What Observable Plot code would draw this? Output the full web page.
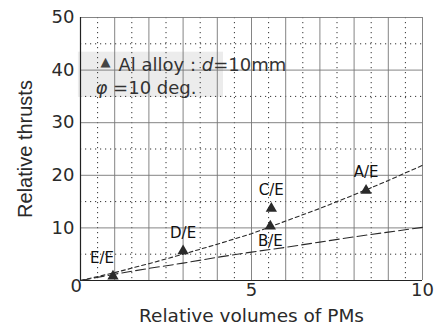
<!DOCTYPE html>
<html><head><meta charset="utf-8">
<script src="https://cdn.jsdelivr.net/npm/d3@7"></script>
<script src="https://cdn.jsdelivr.net/npm/@observablehq/plot@0.6"></script>
<style>body{margin:0;background:#fff;}</style>
</head><body><div id="chart"></div>
<script>
const labels = ["E/E", "D/E", "C/E", "B/E", "A/E"];
const volumes = [0.95, 3.0, 5.58, 5.55, 8.35];
const thrusts = [0.8, 5.6, 13.7, 10.3, 17.1];
const fitX = [0, 1, 2, 3, 4, 5, 6, 7, 8, 9, 10];
const upperFit = [0, 1.5, 3.2, 5.0, 6.9, 8.9, 11.3, 13.7, 16.3, 19.0, 21.9];
const lowerFit = [0, 1.2, 2.3, 3.3, 4.4, 5.4, 6.3, 7.3, 8.3, 9.2, 10.1];
const xTicks = [5, 10];
const yTicks = [10, 20, 30, 40, 50];
const xMajor = [1, 2, 3, 4, 5, 6, 7, 8, 9, 10];
const xMinor = [0.5, 1.5, 2.5, 3.5, 4.5, 5.5, 6.5, 7.5, 8.5, 9.5];
const yMajor = [10, 20, 30, 40, 50];
const yMinor = [5, 15, 25, 35, 45];
const legendLine1 = "Al alloy : d=10mm";
const legendLine2 = "φ =10 deg.";

const pts = labels.map((l, i) => ({label: l, x: volumes[i], y: thrusts[i]}));
const upper = fitX.map((x, i) => ({x, y: upperFit[i]}));
const lower = fitX.map((x, i) => ({x, y: lowerFit[i]}));

const ink = "#2a2a2a";
const wide = "DejaVu Sans, Verdana, sans-serif";
const chart = Plot.plot({
  width: 439, height: 328,
  marginLeft: 80, marginRight: 17, marginTop: 17, marginBottom: 48,
  x: {domain: [0, 10]},
  y: {domain: [0, 50]},
  style: {fontFamily: wide, background: "#fff"},
  marks: [
    Plot.rect([0], {x1: -0.06, x2: 4.18, y1: 34.8, y2: 43.4, fill: "#d9d9d9", fillOpacity: 0.5}),
    Plot.ruleX(xMinor, {stroke: "#333", strokeDasharray: "1.2,3.8", strokeWidth: 1}),
    Plot.ruleY(yMinor, {stroke: "#333", strokeDasharray: "1.2,3.8", strokeWidth: 1}),
    Plot.ruleX(xMajor, {stroke: "#777", strokeWidth: 0.9}),
    Plot.ruleY(yMajor, {stroke: "#777", strokeWidth: 0.9}),
    Plot.ruleX([0], {stroke: "#222", strokeWidth: 1.2}),
    Plot.ruleY([0], {stroke: "#222", strokeWidth: 1.2}),
    Plot.line(upper, {x: "x", y: "y", stroke: ink, strokeWidth: 1.1, strokeDasharray: "4,3"}),
    Plot.line(lower, {x: "x", y: "y", stroke: ink, strokeWidth: 1.1, strokeDasharray: "10,4"}),
    Plot.dot(pts, {x: "x", y: "y", symbol: "triangle", r: 4.2, fill: ink, stroke: "none"}),
    Plot.text(pts, {filter: d => d.label !== "B/E" && d.label !== "E/E", x: "x", y: "y", text: "label", fontSize: 15, fill: "#111", dy: -18}),
    Plot.text(pts, {filter: d => d.label === "E/E", x: "x", y: "y", text: "label", fontSize: 15, fill: "#111", dy: -18, dx: -11}),
    Plot.text(pts, {filter: d => d.label === "B/E", x: "x", y: "y", text: "label", fontSize: 15, fill: "#111", dy: 15}),
    Plot.axisY(yTicks, {tickSize: 0, tickPadding: 6, fontSize: 18, fill: ink, label: null}),
    Plot.axisX(xTicks, {tickSize: 0, tickPadding: 3, fontSize: 18, fill: ink, label: null}),
    Plot.text(["Relative thrusts"], {frameAnchor: "left", dx: -55, rotate: -90, textAnchor: "middle", fontSize: 20, fill: ink, fontFamily: "Liberation Sans, Arial, sans-serif"}),
    Plot.text(["Relative volumes of PMs"], {frameAnchor: "bottom", dy: 41, fontSize: 18.5, fill: ink}),
    Plot.text(["0"], {frameAnchor: "bottom-left", dx: -10, dy: 11, fontSize: 18, fill: ink}),
    Plot.text(["▲"], {frameAnchor: "top-left", dx: 20, dy: 39, fontSize: 13, fill: "#444"}),
    Plot.text([legendLine1], {frameAnchor: "top-left", dx: 38, dy: 41, textAnchor: "start", fontSize: 18, fill: "#333", className: "leg1"}),
    Plot.text([legendLine2], {frameAnchor: "top-left", dx: 15, dy: 64, textAnchor: "start", fontSize: 18, fill: "#333", className: "leg2"})
  ]
});
document.getElementById("chart").appendChild(chart);

function italicize(cls, word) {
  d3.select(chart).selectAll("." + cls + " text").each(function() {
    const t = d3.select(this);
    const s = t.text();
    const i = s.indexOf(word);
    t.text(null);
    t.append("tspan").text(s.slice(0, i));
    t.append("tspan").attr("font-style", "italic").text(word);
    t.append("tspan").text(s.slice(i + word.length));
  });
}
italicize("leg1", "d");
italicize("leg2", "φ");
</script></body></html>
